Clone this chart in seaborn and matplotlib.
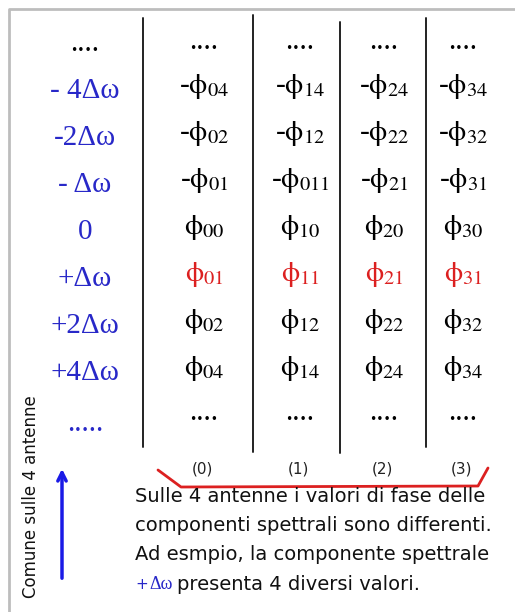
import matplotlib
matplotlib.use("Agg")
import matplotlib.pyplot as plt
import seaborn as sns

# frequency labels (left column) and phase entries per antenna
freq_labels = ["....", "- 4Δω", "-2Δω", "- Δω", "0", "+Δω", "+2Δω", "+4Δω", "....."]
antennas = ["(0)", "(1)", "(2)", "(3)"]
sign = ["", "-", "-", "-", "", "", "", "", ""]
subs = [
    ["04", "02", "01", "00", "01", "02", "04"],
    ["14", "12", "011", "10", "11", "12", "14"],
    ["24", "22", "21", "20", "21", "22", "24"],
    ["34", "32", "31", "30", "31", "32", "34"],
]
red_row = 5  # +Δω row
note_lines = [
    "Sulle 4 antenne i valori di fase delle",
    "componenti spettrali sono differenti.",
    "Ad esmpio, la componente spettrale",
    "presenta 4 diversi valori.",
]
side_note = "Comune sulle 4 antenne"

sns.set_theme(style="white")
plt.rcParams["mathtext.fontset"] = "stix"
plt.rcParams["mathtext.default"] = "rm"

BLUE = "#2828c8"
RED = "#dc2020"
serif = "Liberation Serif"
note_font = "DejaVu Sans"

fig = plt.figure(figsize=(5.15, 6.12), dpi=100)
ax = fig.add_axes([0, 0, 1, 1])
ax.set_xlim(0, 515)
ax.set_ylim(612, 0)
ax.axis("off")

# slide frame
ax.plot([9, 9, 515], [612, 9, 9], color="#bdbdbd", lw=2)

col_x = [85, 204, 300, 384, 463]
row_base = [51 + 47 * i for i in range(len(freq_labels))]

for i, lab in enumerate(freq_labels):
    ax.text(col_x[0], row_base[i] + (4 if i == 8 else 0), lab,
            color="black" if i == 0 else BLUE,
            fontsize=21, family=serif, ha="center", va="baseline")

for c, col in enumerate(subs):
    x = col_x[c + 1]
    ax.text(x, row_base[0] - 2, "....", fontsize=21, family=serif,
            ha="center", va="baseline", color="black")
    for r, s in enumerate(col):
        row = r + 1
        color = RED if row == red_row else "black"
        ax.text(x, row_base[row] - 5, sign[row] + rf"$\phi_{{{s}}}$",
                fontsize=21, family=serif, ha="center", va="baseline",
                color=color)
    ax.text(x, row_base[-1] - 7, "....", fontsize=21, family=serif,
            ha="center", va="baseline", color="black")

# separators
sep_x = [143, 253, 340, 426]
sep_top = [18, 15, 22, 18]
sep_bot = [447, 452, 453, 447]
for x, t, b in zip(sep_x, sep_top, sep_bot):
    ax.plot([x, x], [t, b], color="#222222", lw=1.4)

# antenna indices and red bracket
for c, lab in enumerate(antennas):
    ax.text(col_x[c + 1] - 2, 469, lab, fontsize=11, family=note_font,
            ha="center", va="center", color="#222222")
ax.plot([158, 181, 478, 488], [470, 487, 486, 468], color=RED, lw=2)

# notes
for k, line in enumerate(note_lines):
    y = 496 + 29.5 * k
    if k == 3:
        ax.text(135, y, "+", fontsize=11, family=note_font,
                color=BLUE, ha="left", va="center")
        ax.text(149, y, "Δω", fontsize=13, family=serif,
                color=BLUE, ha="left", va="center")
        ax.text(177, y, line, fontsize=14, family=note_font,
                color="#111111", ha="left", va="center")
    else:
        ax.text(135, y, line, fontsize=14, family=note_font,
                color="#111111", ha="left", va="center")

ax.text(31, 497, side_note, rotation=90, fontsize=12, family=note_font,
        color="#111111", ha="center", va="center")
ax.annotate("", xy=(62, 466), xytext=(62, 581),
            arrowprops=dict(arrowstyle="->", color="#1a1ae6", lw=2.5,
                            mutation_scale=15))

fig.savefig("out.png", dpi=100, facecolor="white")
